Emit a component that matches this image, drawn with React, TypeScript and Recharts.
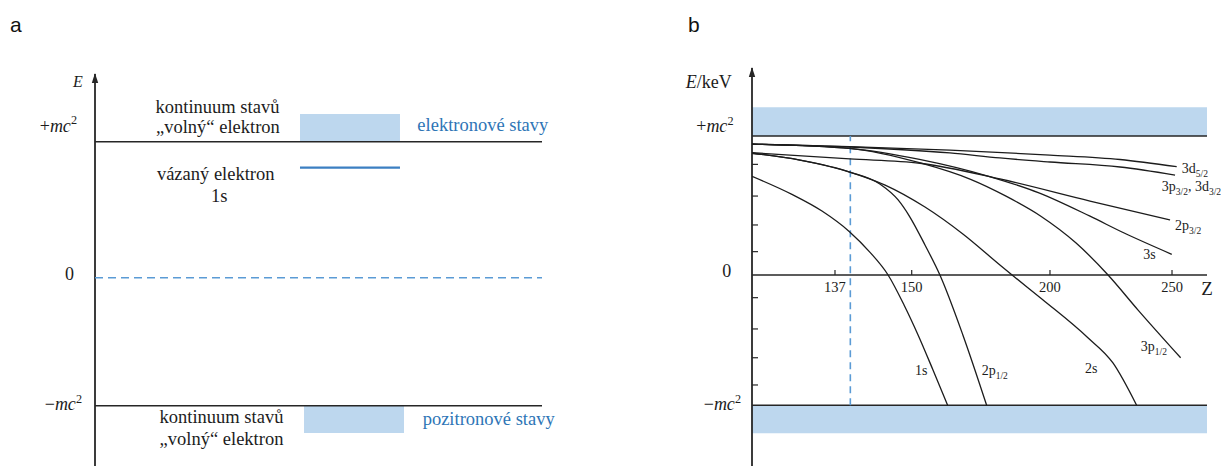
import React from 'react';
import { LineChart, Line, XAxis, YAxis, ReferenceLine, ReferenceArea, ReferenceDot } from 'recharts';

const SERIF = "'Liberation Serif', 'Times New Roman', Times, serif";
const SANS = "'Liberation Sans', Arial, sans-serif";
const INK = '#1c1c1c';
const AXIS = '#262626';
const BAND = '#bdd7ee';
const DASH_BLUE = '#5b9bd5';
const TEXT_BLUE = '#2e75b6';
const LEVEL_BLUE = '#3b7fc2';

// ---------------- panel a data (energy in units of mc², x = diagram fraction) ----------------
const A_X_DOMAIN = [0, 1];
const A_E_KNOTS = [-1.471, -1, 0, 1, 1.498];
const A_LEVELS = [1, -1];
const A_ZERO = 0;
const A_BOUND_1S = 0.809;
const A_BOUND_X = [0.4586, 0.6823];
const A_ELECTRON_BOX_X = [0.4586, 0.6823];
const A_ELECTRON_BOX_E = [1, 1.204];
const A_POSITRON_BOX_X = [0.4676, 0.6913];
const A_POSITRON_BOX_E = [-1.213, -1];
const A_LABEL_TICKS = [-1, 0, 1];
const A_TEXTS = [
  { x: 0.274, e: 1.255, text: 'kontinuum stavů', blue: false },
  { x: 0.275, e: 1.105, text: '„volný“ elektron', blue: false },
  { x: 0.270, e: 0.762, text: 'vázaný elektron', blue: false },
  { x: 0.278, e: 0.602, text: '1s', blue: false },
  { x: 0.283, e: -1.087, text: 'kontinuum stavů', blue: false },
  { x: 0.283, e: -1.26, text: '„volný“ elektron', blue: false },
  { x: 0.7211, e: 1.124, text: 'elektronové stavy', blue: true },
  { x: 0.733, e: -1.104, text: 'pozitronové stavy', blue: true },
];

// ---------------- panel b data (Z, energy in units of mc²) ----------------
const B_Z_KNOTS = [100, 137, 150, 200, 250, 265];
const B_E_KNOTS = [-1.466, -1, 0, 1, 1.489];
const B_Z_TICKS = [137, 150, 200, 250];
const B_E_MINOR_TICKS = [-0.844, -0.635, -0.414, -0.174, 0.168, 0.36, 0.568, 0.796];
const B_E_LABEL_TICKS = [-1, 0, 1];
const B_Z_CRITICAL = 139.6;
const B_UPPER_BAND = [1, 1.206];
const B_LOWER_BAND = [-1.215, -1];

const LEVEL_1S: [number, number][] = [
  [100, 0.71], [117.8, 0.58], [131.2, 0.46], [139.5, 0.31], [142.9, 0.165],
  [146, 0], [148.7, -0.23], [152.3, -0.46], [157.7, -0.729], [163, -1],
];
const LEVEL_2P12: [number, number][] = [
  [100, 0.876], [121.4, 0.827], [139.5, 0.741], [144.6, 0.655], [147.7, 0.54],
  [149.7, 0.417], [154.8, 0.216], [160.2, 0], [168.5, -0.46], [177.1, -1],
];
const LEVEL_2S: [number, number][] = [
  [100, 0.876], [121.4, 0.827], [139.5, 0.741], [145.5, 0.647], [154.8, 0.489],
  [168.5, 0.295], [181.9, 0.072], [186.3, 0], [197.5, -0.192], [215.2, -0.476],
  [225.8, -0.675], [235.5, -1],
];
const LEVEL_2P32: [number, number][] = [
  [100, 0.88], [139.5, 0.835], [153, 0.804], [181.9, 0.691], [216.4, 0.532], [249.2, 0.396],
];
const LEVEL_3D52: [number, number][] = [
  [100, 0.942], [139.5, 0.924], [163.8, 0.899], [200, 0.863], [228.7, 0.831], [252, 0.779],
];
const LEVEL_3P32_3D32: [number, number][] = [
  [100, 0.942], [139.5, 0.921], [163.8, 0.878], [181.9, 0.842], [200, 0.813], [228.7, 0.777], [251.3, 0.719],
];
const LEVEL_3S: [number, number][] = [
  [100, 0.942], [139.8, 0.91], [152.8, 0.832], [177.5, 0.712], [196, 0.591],
  [216.4, 0.423], [230.4, 0.302], [249.9, 0.149],
];
const LEVEL_3P12: [number, number][] = [
  [100, 0.942], [139.8, 0.91], [152.8, 0.808], [171.3, 0.688], [184.1, 0.567],
  [196.7, 0.423], [210.7, 0.23], [223.8, 0], [236.1, -0.269], [253.7, -0.635],
];
const B_CURVES = [LEVEL_1S, LEVEL_2P12, LEVEL_2S, LEVEL_2P32, LEVEL_3D52, LEVEL_3P32_3D32, LEVEL_3S, LEVEL_3P12];

type Seg = { t: string; i?: boolean; sup?: boolean; sub?: boolean };
const B_CURVE_LABELS: { z: number; e: number; segs: Seg[] }[] = [
  { z: 254.2, e: 0.77, segs: [{ t: '3d' }, { t: '5/2', sub: true }] },
  { z: 245.8, e: 0.638, segs: [{ t: '3p' }, { t: '3/2', sub: true }, { t: ', 3d' }, { t: '3/2', sub: true }] },
  { z: 251.3, e: 0.354, segs: [{ t: '2p' }, { t: '3/2', sub: true }] },
  { z: 238.2, e: 0.15, segs: [{ t: '3s' }] },
  { z: 237.2, e: -0.545, segs: [{ t: '3p' }, { t: '1/2', sub: true }] },
  { z: 214.3, e: -0.716, segs: [{ t: '2s' }] },
  { z: 175.3, e: -0.729, segs: [{ t: '2p' }, { t: '1/2', sub: true }] },
  { z: 151.2, e: -0.729, segs: [{ t: '1s' }] },
];

// ---------------- scale configuration (relative knot positions along each axis) ----------------
const A_E_KNOT_POS = [0, 0.1538, 0.4804, 0.8273, 1];
const B_Z_KNOT_POS = [0, 0.1824, 0.351, 0.6549, 0.9231, 1];
const B_E_KNOT_POS = [0, 0.1525, 0.4799, 0.8291, 1];

function makePiecewiseScale(knots: number[], pos: number[], initDom?: number[], initRng?: number[]): any {
  let dom = initDom ? initDom.slice() : [knots[0], knots[knots.length - 1]];
  let rng = initRng ? initRng.slice() : [0, 1];
  const n = knots.length;
  const toPos = (v: number) => {
    let i = 0;
    while (i < n - 2 && v > knots[i + 1]) i++;
    const t = (v - knots[i]) / (knots[i + 1] - knots[i]);
    return pos[i] + t * (pos[i + 1] - pos[i]);
  };
  const fromPos = (p: number) => {
    let i = 0;
    while (i < n - 2 && p > pos[i + 1]) i++;
    const t = (p - pos[i]) / (pos[i + 1] - pos[i]);
    return knots[i] + t * (knots[i + 1] - knots[i]);
  };
  const scale: any = (v: any) => {
    const num = typeof v === 'number' ? v : parseFloat(v);
    if (!Number.isFinite(num)) return undefined;
    return rng[0] + toPos(num) * (rng[rng.length - 1] - rng[0]);
  };
  scale.domain = function (d?: any) {
    if (arguments.length === 0) return dom.slice();
    dom = Array.from(d as number[]).map(Number);
    return scale;
  };
  scale.range = function (r?: any) {
    if (arguments.length === 0) return rng.slice();
    rng = Array.from(r as number[]).map(Number);
    return scale;
  };
  scale.invert = (px: number) => fromPos((px - rng[0]) / (rng[rng.length - 1] - rng[0]));
  scale.copy = () => makePiecewiseScale(knots, pos, dom, rng);
  scale.ticks = (count: number = 5) => {
    const a = Math.min(dom[0], dom[dom.length - 1]);
    const b = Math.max(dom[0], dom[dom.length - 1]);
    const raw = (b - a) / Math.max(1, count);
    const mag = Math.pow(10, Math.floor(Math.log10(raw)));
    const step = [1, 2, 5, 10].map((m) => m * mag).find((s) => s >= raw) || raw;
    const out: number[] = [];
    for (let v = Math.ceil(a / step) * step; v <= b + 1e-9; v += step) out.push(+v.toFixed(10));
    return out;
  };
  scale.tickFormat = () => (v: number) => String(v);
  scale.nice = () => scale;
  scale.clamp = () => scale;
  return scale;
}

const scaleAE = makePiecewiseScale(A_E_KNOTS, A_E_KNOT_POS);
const scaleBZ = makePiecewiseScale(B_Z_KNOTS, B_Z_KNOT_POS);
const scaleBE = makePiecewiseScale(B_E_KNOTS, B_E_KNOT_POS);

// ---------------- text helpers ----------------
function MathText({ x, y, segs, size, anchor = 'start', fill = INK }: { x: number; y: number; segs: Seg[]; size: number; anchor?: string; fill?: string }) {
  let cur = 0;
  return (
    <text x={x} y={y} textAnchor={anchor as any} fontFamily={SERIF} fontSize={size} fill={fill}>
      {segs.map((s, k) => {
        const target = s.sup ? -size * 0.4 : s.sub ? size * 0.28 : 0;
        const dy = target - cur;
        cur = target;
        return (
          <tspan key={k} dy={dy} fontSize={s.sup || s.sub ? size * 0.68 : size} fontStyle={s.i ? 'italic' : 'normal'}>
            {s.t}
          </tspan>
        );
      })}
    </text>
  );
}

const PLUS_MC2: Seg[] = [{ t: '+' }, { t: 'mc', i: true }, { t: '2', sup: true }];
const MINUS_MC2: Seg[] = [{ t: '−' }, { t: 'mc', i: true }, { t: '2', sup: true }];
const ZERO: Seg[] = [{ t: '0' }];

const A_TICK_STYLE = [
  { v: 1, segs: PLUS_MC2, dx: -18, dy: -10 },
  { v: 0, segs: ZERO, dx: -21, dy: 2.5 },
  { v: -1, segs: MINUS_MC2, dx: -13, dy: 4.5 },
];
const B_TICK_STYLE = [
  { v: 1, segs: PLUS_MC2, dx: -18.5, dy: -4.3 },
  { v: 0, segs: ZERO, dx: -20.7, dy: 1.7 },
  { v: -1, segs: MINUS_MC2, dx: -11, dy: 4.7 },
];

const tickLabelShape = (st: (typeof A_TICK_STYLE)[number]) => (p: any) => (
  <MathText x={p.cx + st.dx} y={p.cy + st.dy} segs={st.segs} size={18} anchor="end" />
);
const minorTickShape = (p: any) => (
  <line x1={p.cx} y1={p.cy} x2={p.cx + 6} y2={p.cy} stroke={AXIS} strokeWidth={1.2} />
);

const arrowShape = (title: Seg[], dx: number, dy: number, size: number) => (p: any) => (
  <g>
    <polygon points={`${p.cx},${p.cy - 1} ${p.cx - 3.2},${p.cy + 9} ${p.cx + 3.2},${p.cy + 9}`} fill={AXIS} />
    <MathText x={p.cx + dx} y={p.cy + dy} segs={title} size={size} anchor="end" />
  </g>
);

const rows = (pts: [number, number][]) => pts.map(([z, e]) => ({ z, e }));

function PanelA() {
  const lvl = (e: number, x0: number, x1: number) => [{ x: x0, e }, { x: x1, e }];
  const eMin = A_E_KNOTS[0];
  const eMax = A_E_KNOTS[A_E_KNOTS.length - 1];
  return (
    <div style={{ position: 'absolute', left: 0, top: 0 }}>
      <LineChart width={600} height={466} margin={{ top: 74, right: 58, bottom: 0, left: 95 }}>
        <XAxis type="number" dataKey="x" domain={A_X_DOMAIN} hide allowDataOverflow />
        <YAxis type="number" domain={[eMin, eMax]} scale={scaleAE} allowDataOverflow hide />
        <ReferenceArea x1={A_ELECTRON_BOX_X[0]} x2={A_ELECTRON_BOX_X[1]} y1={A_ELECTRON_BOX_E[0]} y2={A_ELECTRON_BOX_E[1]} fill={BAND} fillOpacity={1} stroke="none" ifOverflow="visible" />
        <ReferenceArea x1={A_POSITRON_BOX_X[0]} x2={A_POSITRON_BOX_X[1]} y1={A_POSITRON_BOX_E[0]} y2={A_POSITRON_BOX_E[1]} fill={BAND} fillOpacity={1} stroke="none" ifOverflow="visible" />
        <ReferenceLine segment={[{ x: A_X_DOMAIN[0], y: eMin }, { x: A_X_DOMAIN[0], y: eMax }]} stroke={AXIS} strokeWidth={1.8} ifOverflow="visible" />
        {A_LEVELS.map((e) => (
          <Line key={e} data={lvl(e, A_X_DOMAIN[0], A_X_DOMAIN[1])} dataKey="e" stroke={AXIS} strokeWidth={1.6} dot={false} isAnimationActive={false} type="linear" />
        ))}
        <Line data={lvl(A_ZERO, A_X_DOMAIN[0], A_X_DOMAIN[1])} dataKey="e" stroke={DASH_BLUE} strokeWidth={1.6} strokeDasharray="8 5" dot={false} isAnimationActive={false} type="linear" />
        <Line data={lvl(A_BOUND_1S, A_BOUND_X[0], A_BOUND_X[1])} dataKey="e" stroke={LEVEL_BLUE} strokeWidth={2.2} dot={false} isAnimationActive={false} type="linear" />
        {A_LABEL_TICKS.map((v) => {
          const st = A_TICK_STYLE.find((s) => s.v === v)!;
          return <ReferenceDot key={`t${v}`} x={A_X_DOMAIN[0]} y={v} ifOverflow="visible" shape={tickLabelShape(st)} />;
        })}
        <ReferenceDot x={A_X_DOMAIN[0]} y={eMax} ifOverflow="visible" shape={arrowShape([{ t: 'E', i: true }], -12.3, 12.7, 16)} />
        {A_TEXTS.map((t, k) => (
          <ReferenceDot
            key={k}
            x={t.x}
            y={t.e}
            ifOverflow="visible"
            shape={(p: any) => (
              <text
                x={p.cx}
                y={p.cy + 6}
                textAnchor={t.blue ? 'start' : 'middle'}
                fontFamily={SERIF}
                fontSize={18.5}
                fill={t.blue ? TEXT_BLUE : INK}
              >
                {t.text}
              </text>
            )}
          />
        ))}
      </LineChart>
    </div>
  );
}

function PanelB() {
  const zMin = B_Z_KNOTS[0];
  const zMax = B_Z_KNOTS[B_Z_KNOTS.length - 1];
  const eMin = B_E_KNOTS[0];
  const eMax = B_E_KNOTS[B_E_KNOTS.length - 1];
  return (
    <div style={{ position: 'absolute', left: 620, top: 0 }}>
      <LineChart width={601} height={466} margin={{ top: 68, right: 14, bottom: 0, left: 132 }}>
        <XAxis type="number" dataKey="z" domain={[zMin, zMax]} scale={scaleBZ} hide allowDataOverflow />
        <YAxis type="number" domain={[eMin, eMax]} scale={scaleBE} allowDataOverflow hide />
        <ReferenceArea y1={B_UPPER_BAND[0]} y2={B_UPPER_BAND[1]} fill={BAND} fillOpacity={1} stroke="none" />
        <ReferenceArea y1={B_LOWER_BAND[0]} y2={B_LOWER_BAND[1]} fill={BAND} fillOpacity={1} stroke="none" />
        <ReferenceLine segment={[{ x: zMin, y: eMin }, { x: zMin, y: eMax }]} stroke={AXIS} strokeWidth={1.8} ifOverflow="visible" />
        {B_E_LABEL_TICKS.map((e) => (
          <ReferenceLine key={e} y={e} stroke={AXIS} strokeWidth={1.6} />
        ))}
        <ReferenceLine
          segment={[{ x: B_Z_CRITICAL, y: -1 }, { x: B_Z_CRITICAL, y: 1 }]}
          stroke={DASH_BLUE}
          strokeWidth={1.6}
          strokeDasharray="7 5"
        />
        {B_CURVES.map((pts, k) => (
          <Line key={k} data={rows(pts)} dataKey="e" stroke={INK} strokeWidth={1.3} dot={false} isAnimationActive={false} type="monotone" />
        ))}
        {B_E_MINOR_TICKS.map((v) => (
          <ReferenceDot key={`m${v}`} x={zMin} y={v} ifOverflow="visible" shape={minorTickShape} />
        ))}
        {B_E_LABEL_TICKS.map((v) => {
          const st = B_TICK_STYLE.find((s) => s.v === v)!;
          return <ReferenceDot key={`t${v}`} x={zMin} y={v} ifOverflow="visible" shape={tickLabelShape(st)} />;
        })}
        {B_Z_TICKS.map((z) => (
          <ReferenceDot
            key={z}
            x={z}
            y={0}
            ifOverflow="visible"
            shape={(p: any) => (
              <g>
                <line x1={p.cx} y1={p.cy} x2={p.cx} y2={p.cy - 5} stroke={AXIS} strokeWidth={1.2} />
                <text x={p.cx} y={p.cy + 16.7} textAnchor="middle" fontFamily={SERIF} fontSize={14.5} fill={INK}>
                  {z}
                </text>
              </g>
            )}
          />
        ))}
        <ReferenceDot
          x={zMax}
          y={0}
          ifOverflow="visible"
          shape={(p: any) => (
            <text x={p.cx} y={p.cy + 20} textAnchor="middle" fontFamily={SERIF} fontSize={19} fill={INK}>
              Z
            </text>
          )}
        />
        <ReferenceDot
          x={zMin}
          y={eMax}
          ifOverflow="visible"
          shape={arrowShape([{ t: 'E', i: true }, { t: '/keV' }], -20.3, 20.3, 18)}
        />
        {B_CURVE_LABELS.map((l, k) => (
          <ReferenceDot
            key={k}
            x={l.z}
            y={l.e}
            ifOverflow="visible"
            shape={(p: any) => <MathText x={p.cx} y={p.cy + 4.6} segs={l.segs} size={14} />}
          />
        ))}
      </LineChart>
    </div>
  );
}

export default function App() {
  return (
    <div style={{ position: 'absolute', left: 0, top: 0, width: 1221, height: 466, background: '#fff', overflow: 'hidden' }}>
      <PanelA />
      <PanelB />
      <svg width={1221} height={40} style={{ position: 'absolute', left: 0, top: 0, pointerEvents: 'none' }}>
        <text x={10} y={32} fontFamily={SANS} fontSize={21} fill="#111">a</text>
        <text x={688} y={32} fontFamily={SANS} fontSize={21} fill="#111">b</text>
      </svg>
    </div>
  );
}
